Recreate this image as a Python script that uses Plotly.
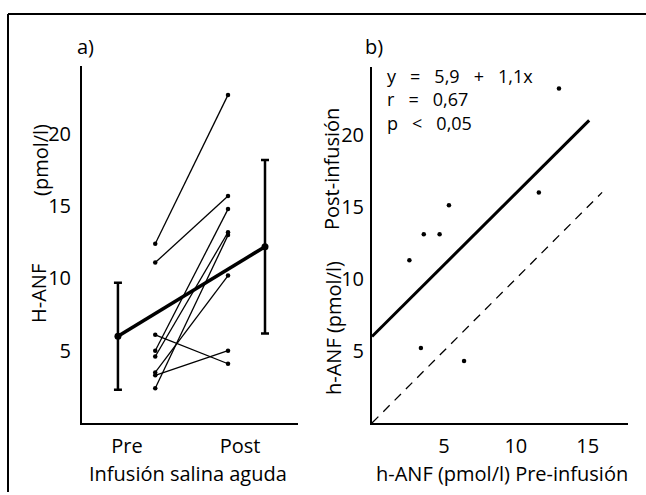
import plotly.graph_objects as go

W, H = 646, 495

# ---------------- data ----------------
# Panel a: paired individual values (pmol/l)
pre_a = [12.4, 11.1, 6.1, 3.3, 5.0, 4.6, 2.4, 3.5]
post_a = [22.7, 15.7, 4.1, 5.0, 14.8, 13.2, 13.0, 10.2]
group_labels = ["Pre", "Post"]
means_a = [6.0, 12.2]
sd_a = [3.7, 6.0]

# Panel b: pre (x) vs post (y)
pre_b = [13.0, 11.6, 5.35, 3.6, 4.7, 2.6, 3.4, 6.4]
post_b = [23.2, 16.0, 15.1, 13.1, 13.1, 11.3, 5.2, 4.3]
reg_x = [0.0, 15.1]
reg_y = [6.0, 21.0]
ident_x = [0.0, 16.0]
ident_y = [0.0, 16.0]
ticks_a = [5, 10, 15, 20]
ticks_b_x = [5, 10, 15]
ticks_b_y = [5, 10, 15, 20]
stats_text = ["y = 5,9 + 1,1x", "r = 0,67", "p < 0,05"]

# ---------------- layout helpers ----------------
FONT = "Open Sans"
FS = 20
X_PRE_IND, X_POST_IND = 1.25, 1.894
X_PRE_MEAN, X_POST_MEAN = 0.92, 2.221

def px(x):
    return x / W

def py(y):
    return 1 - y / H

fig = go.Figure()

# paired lines
lx, ly = [], []
for a, b in zip(pre_a, post_a):
    lx += [X_PRE_IND, X_POST_IND, None]
    ly += [a, b, None]
fig.add_trace(go.Scatter(x=lx, y=ly, mode="lines+markers",
                         line=dict(color="black", width=1.3),
                         marker=dict(color="black", size=4.5),
                         xaxis="x", yaxis="y", showlegend=False))
# mean line with SD bars
fig.add_trace(go.Scatter(x=[X_PRE_MEAN, X_POST_MEAN], y=means_a, mode="lines+markers",
                         line=dict(color="black", width=3.5),
                         marker=dict(color="black", size=7),
                         error_y=dict(type="data", array=sd_a, visible=True,
                                      color="black", thickness=2.5, width=4),
                         xaxis="x", yaxis="y", showlegend=False))

# panel b
fig.add_trace(go.Scatter(x=ident_x, y=ident_y, mode="lines",
                         line=dict(color="black", width=1.3, dash="9px,7px"),
                         xaxis="x2", yaxis="y2", showlegend=False))
fig.add_trace(go.Scatter(x=reg_x, y=reg_y, mode="lines",
                         line=dict(color="black", width=3),
                         xaxis="x2", yaxis="y2", showlegend=False))
fig.add_trace(go.Scatter(x=pre_b, y=post_b, mode="markers",
                         marker=dict(color="black", size=4.5),
                         xaxis="x2", yaxis="y2", showlegend=False))

axis_common = dict(showgrid=False, zeroline=False, showline=True, linecolor="black",
                   linewidth=2, ticks="", tickfont=dict(family=FONT, size=FS, color="black"))

fig.update_layout(
    width=W, height=H, autosize=False,
    margin=dict(l=0, r=0, t=0, b=0),
    paper_bgcolor="white", plot_bgcolor="white",
    font=dict(family=FONT, size=FS, color="black"),
    xaxis=dict(domain=[px(82), px(298)], range=[0.602, 2.513], anchor="y",
               tickvals=[1, 2], ticktext=group_labels, ticklabelstandoff=4, **axis_common),
    yaxis=dict(domain=[py(423), py(66)], range=[0, 24.7], anchor="x",
               tickvals=ticks_a, ticklabelstandoff=5, **axis_common),
    xaxis2=dict(domain=[px(372), px(628)], range=[0, 17.8], anchor="y2",
                tickvals=ticks_b_x, ticklabelstandoff=4, **axis_common),
    yaxis2=dict(domain=[py(423), py(67)], range=[0, 24.7], anchor="x2",
                tickvals=ticks_b_y, ticklabelstandoff=2, **axis_common),
)

ann = []
def text(x, y, s, angle=0, xanchor="center", size=FS, yanchor="middle", align="center"):
    ann.append(dict(x=px(x), y=py(y), xref="paper", yref="paper", text=s,
                    showarrow=False, textangle=angle, xanchor=xanchor, yanchor=yanchor,
                    align=align, font=dict(family=FONT, size=size, color="black")))

NB = "\u00a0"
text(85, 46, "a)")
text(374, 47, "b)")
text(188, 473, "Infusión salina aguda")
text(502, 473, "h-ANF (pmol/l) Pre-infusión")
text(38, 294, "H-ANF", angle=-90)
text(40, 160, "(pmol/l)", angle=-90)
text(333, 328, "h-ANF (pmol/l)", angle=-90)
text(331, 169, "Post-infusión", angle=-90)
stats = "<br>".join(s.replace(" ", NB * 3) for s in stats_text)
text(385, 62, stats, xanchor="left", yanchor="top", align="left", size=18)
fig.update_layout(annotations=ann)

# frame (top and left border of the scanned figure)
fig.update_layout(shapes=[
    dict(type="line", xref="paper", yref="paper", x0=px(8), x1=1, y0=py(14), y1=py(14),
         line=dict(color="black", width=2)),
    dict(type="line", xref="paper", yref="paper", x0=px(8), x1=px(8), y0=py(14), y1=py(492),
         line=dict(color="black", width=2)),
])

fig.write_html("out.html")
